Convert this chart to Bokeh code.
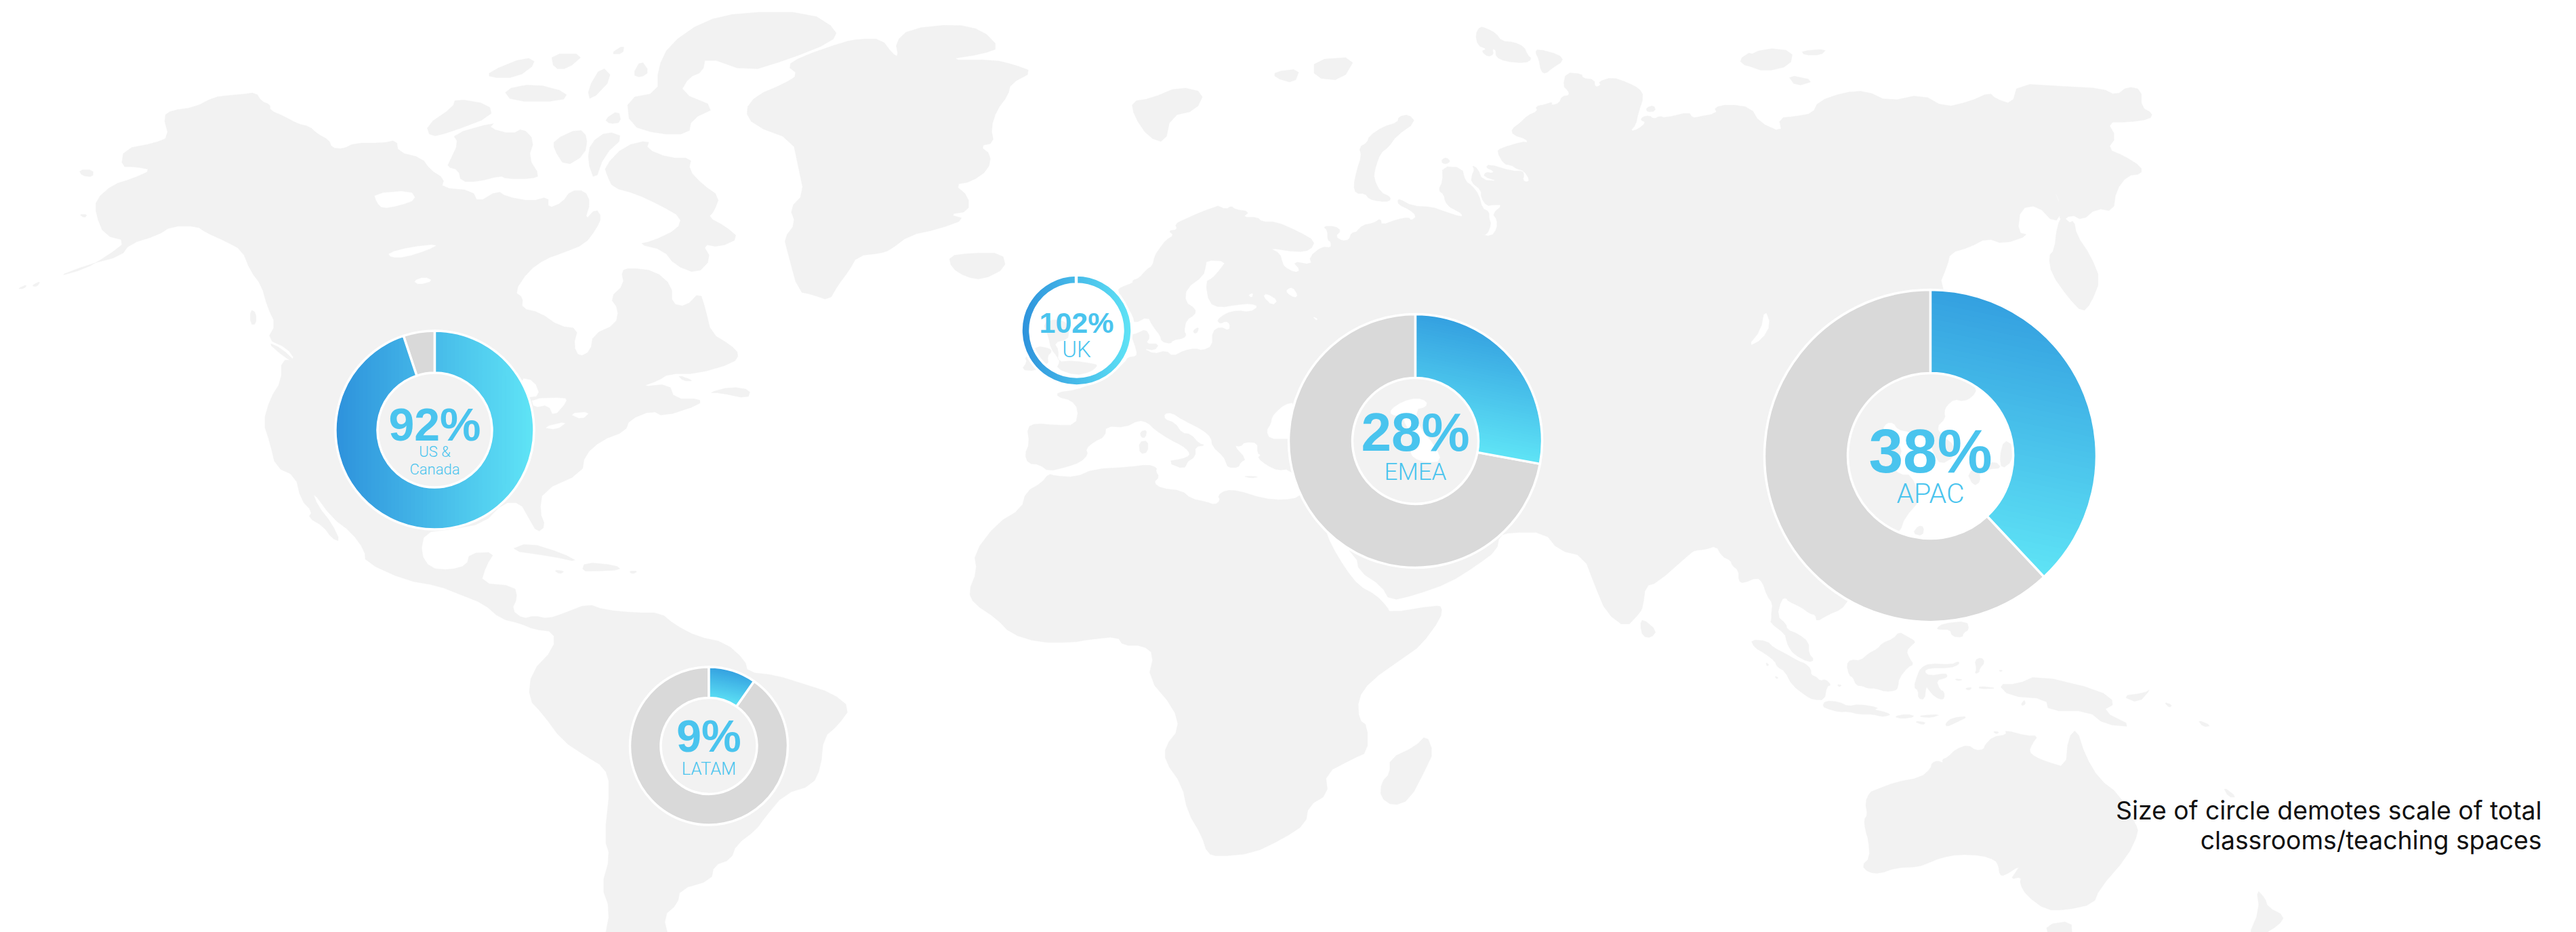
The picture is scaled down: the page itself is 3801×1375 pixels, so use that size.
import numpy as np
from bokeh.plotting import figure
from bokeh.models import Range1d
from bokeh.core.properties import value
from bokeh.embed import file_html
from bokeh.resources import INLINE

# ---------- data ----------
regions = ["US &\nCanada", "UK", "EMEA", "APAC", "LATAM"]
pct_labels = ["92%", "102%", "28%", "38%", "9%"]
drawn_share = [0.949, 0.998, 0.279, 0.38, 0.097]
note_lines = ["Size of circle demotes scale of total", "classrooms/teaching spaces"]

# ---------- layout (reference pixels) ----------
W, H = 3801, 1375
centers = [(641, 634), (1588, 487), (2088, 650), (2848, 672), (1045.5, 1100)]
r_outer = [146.5, 81.5, 187, 245, 116.5]
r_inner = [84.5, 68.5, 93, 122, 71]
grad_dir = [(1, 0), (1, 0), (-0.2, 0.98), (-0.2, 0.98), (-0.2, 0.98)]
grad_start = [(46, 146, 220), (46, 146, 220), (52, 160, 224), (52, 160, 224), (52, 160, 224)]
GRAD1 = (95, 228, 246)
GREY, LAND, BLUE = "#d9d9d9", "#f2f2f2", "#4ac4ee"
BASE_SHIFT = 0.37   # the text layout sits this many ems under the requested baseline
pct_style = [(68, 641, 651), (43, 1588, 491), (80, 2088, 667), (91, 2848, 699), (66, 1045.5, 1110)]
lab_style = [(22, 641, 674), (33, 1588, 527), (35, 2088, 709), (41, 2848, 743), (25.5, 1045.5, 1143)]

# map outlines; each list is in the pixel frame of one crop
A = (0, 0, 1.206, 1.14); B = (1300, 0, 1.206, 1.14); C = (2500, 0, 1.206, 1.14)
Z7 = (1480, 250, 3, 3); Z8 = (2500, 800, 3, 3); Z9 = (2000, 0, 3, 3); Z10 = (2720, 410, 3, 3); Z11 = (1990, 550, 3, 3)

americas = [(290,195),(305,185),(345,180),(380,163),(405,160),(430,158),(455,155),(465,170),(480,175),(480,185),(505,195),(530,208),(550,212),(565,225),(585,235),(590,248),(610,250),(630,240),(680,240),(705,235),(708,255),(750,265),(765,285),(790,300),(785,315),(840,320),(850,340),(885,320),(900,330),(945,338),(975,330),(975,350),(1000,340),(1015,320),(1040,320),(1050,340),(1040,370),(1060,350),(1070,365),(1060,385),(1040,410),(1000,425),(970,435),(940,455),(915,490),(930,500),(928,518),(960,525),(995,548),(1028,552),(1020,580),(1030,600),(1050,590),(1055,562),(1095,545),(1100,520),(1085,500),(1110,478),(1105,455),(1120,450),(1165,455),(1195,480),(1195,510),(1220,515),(1245,490),(1255,520),(1265,560),(1300,580),(1315,595),(1305,610),(1240,628),(1190,628),(1170,640),(1140,650),(1190,645),(1200,670),(1245,670),(1245,680),(1180,700),(1160,690),(1120,705),(1112,725),(1070,740),(1040,765),(1035,795),(965,825),(960,860),(970,885),(955,895),(940,870),(925,845),(895,845),(860,880),(800,890),(755,895),(748,930),(765,955),(800,958),(830,950),(835,930),(880,928),(865,950),(855,980),(915,985),(920,1005),(910,1025),(930,1040),(950,1035),(975,1040),(1005,1030),(1045,1015),(1075,1025),(1130,1030),(1175,1030),(1200,1050),(1240,1070),(1290,1080),(1325,1110),(1330,1130),(1380,1135),(1430,1150),(1480,1165),(1513,1190),(1490,1220),(1465,1240),(1460,1290),(1445,1320),(1395,1335),(1360,1375),(1345,1395),(1310,1420),(1300,1445),(1270,1455),(1265,1480),(1210,1495),(1205,1520),(1180,1540),(1190,1580),(1075,1580),(1085,1530),(1070,1490),(1085,1440),(1075,1410),(1085,1320),(1075,1290),(1040,1270),(1000,1245),(965,1200),(940,1175),(945,1130),(985,1090),(985,1062),(950,1058),(925,1048),(890,1040),(860,1015),(820,1000),(780,985),(720,975),(650,945),(648,925),(625,895),(590,870),(555,825),(565,850),(590,880),(605,910),(590,905),(575,885),(548,870),(555,860),(535,840),(525,800),(490,785),(480,745),(468,710),(480,670),(500,640),(500,605),(525,605),(510,585),(475,570),(490,545),(475,515),(465,480),(445,455),(430,420),(400,405),(365,390),(350,380),(305,380),(280,395),(230,410),(215,430),(155,445),(100,465),(150,452),(190,430),(225,405),(185,395),(170,360),(170,335),(200,310),(235,300),(270,285),(240,280),(215,280),(220,250),(275,240),(300,230)]
greenland = [(1568,65),(1588,90),(1598,95),(1593,70),(1618,48),(1698,40),(1748,50),(1778,80),(1748,90),(1683,100),(1768,100),(1803,108),(1838,120),(1798,140),(1793,160),(1773,185),(1763,215),(1768,240),(1743,245),(1763,260),(1758,285),(1728,305),(1698,310),(1723,330),(1723,355),(1688,360),(1718,368),(1668,385),(1618,395),(1583,420),(1568,425),(1525,430),(1510,455),(1490,480),(1475,505),(1445,495),(1420,490),(1400,420),(1395,400),(1415,375),(1405,350),(1430,325),(1420,280),(1410,235),(1340,210),(1325,185),(1345,160),(1395,140),(1420,125),(1400,110),(1425,95),(1500,70),(1530,65)]
canada_isles = [
 [(1075,280),(1110,245),(1155,235),(1150,250),(1190,265),(1230,265),(1225,285),(1250,310),(1280,330),(1270,355),(1260,365),(1290,380),(1315,400),(1280,415),(1250,410),(1265,435),(1240,460),(1200,445),(1180,420),(1135,410),(1160,405),(1205,385),(1212,365),(1175,345),(1130,325),(1090,315),(1080,295)],
 [(800,270),(815,240),(805,225),(880,205),(870,215),(910,225),(930,215),(950,235),(940,265),(960,295),(945,300),(900,300),(890,295),(850,305),(820,305),(815,285),(795,280)],
 [(985,235),(1030,215),(1045,230),(1040,260),(1005,280),(985,250)],
 [(1050,240),(1080,220),(1110,230),(1075,260),(1058,305),(1045,270)],
 [(1115,165),(1170,155),(1170,115),(1190,75),(1250,35),(1320,20),(1440,20),(1490,50),(1480,70),(1400,100),(1330,120),(1255,95),(1250,120),(1225,130),(1210,155),(1275,180),(1230,200),(1225,225),(1170,225),(1120,210)],
 [(1075,200),(1100,185),(1105,205),(1085,208)],
 [(870,120),(935,95),(955,105),(920,130),(870,130)],
 [(910,170),(1000,170),(1010,155),(950,140),(895,150)],
 [(980,90),(1040,90),(1010,115),(985,115)],
 [(1050,170),(1090,130),(1070,110),(1045,150)],
 [(758,210),(805,180),(810,165),(870,175),(875,195),(800,222),(765,230)],
 [(1125,125),(1140,100),(1155,120),(1140,130)],
 [(1085,90),(1110,75),(1108,90)],
 [(905,925),(940,912),(1000,930),(1030,945),(980,935)],
 [(1040,945),(1095,950),(1105,958),(1060,960),(1035,960)],
 [(985,958),(1005,960),(995,965)],
 [(1118,960),(1135,960),(1125,965)],
 [(1260,660),(1300,650),(1335,655),(1330,670),(1280,660)],
 [(1205,630),(1235,640),(1215,640)],
 [(475,575),(500,585),(530,612),(505,600)],
 [(445,520),(455,525),(455,545),(445,545)],
 [(140,285),(165,285),(165,297),(145,295)],
 [(30,485),(48,478),(42,485)], [(55,480),(72,472),(65,482)],
 [(140,360),(155,360),(150,366)],
]

norway_to_turkey = [(950,160),(880,185),(800,220),(760,240),(770,265),(730,270),(755,290),(720,310),(690,350),(670,380),(660,425),(635,440),(600,480),(570,490),(575,500),(520,520),(505,535),(540,590),(575,650),(580,680),(640,650),(660,690),(695,735),(700,760),(740,770),(750,755),(800,745),(810,730),(800,715),(810,665),(850,640),(850,615),(805,585),(810,525),(885,470),(895,430),(900,400),(985,405),(960,440),(925,480),(895,495),(910,590),(960,610),(1030,598),(1095,592),(1130,605),(1090,630),(1035,622),(985,635),(945,665),(960,682),(985,670),(1003,682),(1000,712),(960,695),(925,715),(925,780),(880,800),(850,790),(800,800),(750,825),(720,800),(665,815),(620,790),(670,800),(690,770),(630,770),(650,740),(630,705),(590,725),(565,730),(590,800),(590,825),(550,830),(540,850),(450,930),(400,945),(320,975),(240,985),(240,1005),(300,1020),(332,1060),(320,1130),(230,1130),(145,1122),(105,1140),(115,1210),(95,1260),(110,1300),(160,1305),(200,1335),(280,1315),(340,1295),(375,1260),(365,1235),(400,1205),(450,1180),(455,1135),(540,1140),(600,1108),(640,1120),(670,1150),(730,1190),(790,1220),(820,1245),(825,1265),(790,1280),(725,1290),(800,1325),(810,1295),(850,1270),(850,1225),(895,1220),(865,1210),(830,1170),(790,1165),(760,1120),(715,1105),(712,1080),(745,1075),(790,1105),(880,1150),(920,1185),(925,1225),(975,1270),(985,1295),(995,1318),(1040,1318),(1050,1295),(1075,1280),(1020,1220),(1050,1225),(1070,1205),(1125,1208),(1125,1255),(1140,1262),(1125,1275),(1170,1310),(1215,1330),(1265,1325),(1340,1400)]
north_africa = [(1310,1450),(1240,1462),(1150,1455),(1040,1420),(985,1418),(950,1440),(960,1465),(935,1483),(900,1470),(830,1455),(790,1420),(700,1410),(665,1385),(690,1360),(675,1335),(680,1318),(640,1305),(560,1315),(400,1325),(320,1360),(230,1355),(200,1345),(170,1385),(100,1425),(80,1500)]
africa_arabia_india = [(205,880),(165,930),(170,960),(155,995),(165,1015),(205,1040),(230,1065),(280,1080),(340,1080),(370,1075),(420,1070),(430,1085),(465,1085),(485,1100),(475,1140),(520,1190),(530,1225),(505,1255),(505,1280),(535,1320),(545,1365),(570,1405),(580,1435),(600,1440),(660,1435),(715,1410),(755,1385),(760,1355),(795,1335),(790,1300),(840,1275),(865,1265),(865,1220),(850,1210),(848,1175),(870,1145),(930,1105),(960,1085),(995,1040),(998,1020),(985,1018),(905,1030),(900,1020),(880,1000),(850,985),(825,955),(800,915),(790,890),(845,935),(850,960),(890,985),(905,1010),(950,1000),(1010,980),(1060,950),(1095,925),(1100,900),(1120,895),(1180,895),(1205,925),(1250,935),(1270,985),(1290,1030),(1325,1055),(1350,1030),(1355,1020),(1360,985),(1380,980),(1440,930)]
se_asia = [(0,35),(50,30),(95,15),(120,60),(160,80),(165,100),(195,125),(195,170),(215,180),(275,155),(300,175),(320,235),(345,270),(340,310),(340,340),(335,355),(400,405),(405,430),(415,460),(440,495),(505,530),(530,520),(505,490),(505,440),(460,405),(410,385),(405,360),(365,325),(385,250),(405,245),(415,260),(470,285),(510,315),(535,320),(540,350),(590,320),(650,295),(675,262)]
china_coast = [(250,1120),(270,1060),(340,980),(300,870),(250,870),(210,830),(260,780),(240,720),(170,670),(190,640),(220,640),(240,670),(290,680),(350,700),(380,720),(400,780),(430,825),(490,790),(490,740),(440,700),(410,660),(450,620),(445,590),(455,565),(490,535),(530,545),(570,525),(590,490)]
siberia_east = [(0,197),(40,190),(35,180),(60,175),(100,180),(115,205),(155,222),(150,198),(180,195),(210,190),(220,170),(265,155),(305,152),(345,170),(405,158),(445,180),(490,170),(525,155),(535,165),(565,175),(575,140),(660,145),(725,148),(750,160),(770,145),(795,150),(795,180),(815,190),(810,200),(770,205),(735,205),(750,230),(735,250),(765,262),(795,280),(795,292),(770,295),(750,320),(745,355),(715,350),(690,370),(670,360),(650,375),(650,340),(640,320),(655,355),(640,375),(610,345),(580,350),(575,390),(595,395),(550,410),(520,400),(490,415),(455,425),(450,445),(435,480)]
siberia_west = [(0,1026),(30,995),(80,985),(110,965),(115,995),(180,970),(235,960),(245,975),(270,955),(235,925),(190,905),(185,885),(195,880),(250,910),(340,915),(380,930),(470,960),(470,945),(435,925),(415,915),(395,890),(390,860),(365,840),(385,800),(383,735),(470,740),(485,800),(515,820),(545,860),(560,920),(590,935),(590,965),(600,990),(580,1040),(545,1035),(600,1045),(625,1010),(625,970),(605,945),(650,905),(610,905),(580,910),(555,875),(555,840),(510,805),(515,770),(525,750),(515,730),(540,745),(560,795),(630,800),(565,780),(575,760),(605,765),(610,755),(575,740),(590,725),(690,755),(740,755),(745,775),(740,795),(755,805),(770,795),(745,755),(710,745),(690,730),(655,725),(625,670),(640,655),(740,625),(760,630),(755,615),(695,595),(690,570),(730,540),(760,510),(805,490),(795,470),(840,460),(870,450),(865,465),(900,455),(912,425),(945,420),(940,400),(918,380),(930,320),(1000,325),(1005,345),(1055,350),(1060,385),(1085,375),(1075,360),(1135,340),(1205,365),(1255,390),(1275,425),(1250,500),(1240,550),(1215,580),(1250,570),(1285,540),(1260,530),(1270,515),(1300,510),(1320,525),(1345,512),(1370,520),(1475,495),(1490,520),(1525,515),(1560,520)]
russia_arctic_west = [(950,160),(985,175),(1010,160),(1025,175),(1090,185),(1060,210),(1125,210),(1145,230),(1210,230),(1310,275),(1380,315),(1360,355),(1300,365),(1175,345),(1225,370),(1235,410),(1245,430),(1290,455),(1315,445),(1280,405),(1365,420),(1355,385),(1410,340),(1450,345),(1450,320),(1435,310),(1435,270),(1415,250),(1470,250),(1495,270),(1470,295),(1500,315),(1530,310),(1540,280),(1560,275)]

aus_n = [(1380,850),(1375,830),(1470,855),(1520,855),(1495,890),(1480,925),(1510,950),(1560,970)]
aus_e = [(660,1290),(665,1240),(680,1225),(695,1270),(720,1310),(755,1335),(785,1385),(790,1400),(770,1440),(720,1495),(710,1520),(660,1530),(625,1530),(590,1505)]
aus_s = [(1440,1510),(1445,1480),(1400,1490),(1420,1460),(1440,1430),(1370,1475),(1350,1470),(1345,1430),(1330,1405),(1270,1385),(1170,1380),(1090,1395),(1030,1420),(990,1435),(890,1440),(820,1465),(770,1460),(740,1430),(775,1395),(770,1320),(755,1270),(750,1225),(765,1205),(755,1150),(775,1105),(800,1095),(890,1060),(1000,1040),(1045,1000),(1050,975),(1075,965),(1100,975),(1095,960),(1120,950),(1155,915),(1210,895),(1245,920),(1280,915),(1285,895),(1320,860)]

isles = [
 (B, [(120,430),(160,425),(215,425),(222,450),(180,470),(150,465),(125,450)]),
 (B, [(905,1275),(950,1255),(970,1235),(982,1265),(970,1290),(940,1345),(910,1355),(888,1340),(890,1315),(905,1300)]),
 (B, [(1355,1040),(1380,1060),(1370,1072),(1355,1070),(1350,1050)]),
 (B, [(445,170),(480,165),(530,145),(575,155),(560,185),(515,195),(505,240),(475,230),(450,195)]),
 (B, [(700,120),(745,115),(735,140),(700,130)]),
 (B, [(770,100),(845,95),(820,135),(770,130)]),
 (B, [(1525,100),(1550,85),(1568,110),(1540,112)]),
 (B, [(760,1125),(785,1125),(775,1145),(758,1143)]),
 (Z7, [(175,675),(240,660),(285,680),(290,720),(285,750),(225,765),(245,800),(240,850),(310,845),(410,860),(415,870),(385,895),(320,910),(235,880),(250,850),(240,830),(210,790),(200,740)]),
 (Z7, [(95,830),(145,780),(205,790),(215,805),(195,825),(200,860),(140,890),(80,885),(105,850)]),
 (Z7, [(690,665),(720,648),(720,668),(700,672)]),
 (Z7, [(840,710),(865,695),(860,720),(845,725)]),
 (Z7, [(605,1160),(635,1150),(630,1185),(610,1185)]),
 (Z7, [(600,1205),(640,1198),(640,1250),(605,1258)]),
 (Z7, [(725,1295),(825,1275),(800,1325)]),
 (Z7, [(1060,1355),(1135,1358),(1095,1365)]),
 (Z9, [(15,650),(50,630),(60,600),(120,560),(185,540),(190,515),(235,505),(265,540),(180,600),(145,650),(110,675),(85,745),(80,790),(110,850),(155,870),(150,890),(105,890),(60,880),(40,855),(0,855),(-10,820),(5,750),(25,690)]),
 (Z9, [(530,150),(550,115),(580,125),(620,145),(645,180),(700,185),(745,205),(760,240),(780,260),(750,278),(660,270),(620,250),(620,220),(605,215),(610,240),(585,250),(555,225),(580,215),(540,200)]),
 (Z9, [(795,230),(805,215),(900,240),(920,268),(870,300),(840,325),(820,315),(810,260)]),
 (Z9, [(380,705),(400,695),(420,712),(400,725),(382,720)]),
 (Z9, [(1285,475),(1320,465),(1328,490),(1290,495)]),
 (C, [(80,100),(125,80),(175,85),(170,110),(125,120),(95,110)]),
 (C, [(190,85),(235,82),(225,92),(195,92)]),
 (C, [(165,125),(215,135),(180,145)]),
 (C, [(632,320),(650,340),(655,360),(645,380),(640,420),(630,430),(635,460),(665,500),(690,525),(705,510),(722,470),(705,430),(680,395),(675,370),(665,375),(645,345)]),
 (C, [(540,1150),(575,1150),(610,1135),(720,1160),(750,1182),(725,1195),(782,1222),(730,1218),(700,1195),(630,1195),(625,1175),(560,1170)]),
 (C, [(760,1170),(800,1165),(812,1158),(790,1182)]),
 (C, [(835,1180),(850,1185),(845,1190)]), (C, [(895,1210),(920,1220),(905,1222)]),
 (C, [(625,1555),(670,1548),(672,1575),(630,1575)]),
 (C, [(1000,1495),(1015,1510),(1020,1525),(1050,1540),(1040,1555),(1005,1575),(985,1575),(1005,1530)]),
 (C, [(940,1322),(965,1340),(950,1340)]),
 (Z8, [(248,430),(320,435),(350,465),(400,490),(460,525),(490,535),(515,560),(515,585),(540,595),(555,612),(580,605),(605,630),(585,637),(575,697),(525,695),(495,680),(430,630),(400,570),(365,550),(355,525),(310,490),(265,465)]),
 (Z8, [(578,700),(640,705),(680,725),(725,715),(815,730),(795,740),(825,745),(870,760),(850,768),(825,770),(790,760),(725,760),(680,748),(640,750),(595,738),(565,725)]),
 (Z8, [(672,540),(690,518),(735,522),(770,490),(810,470),(830,445),(880,425),(905,395),(940,415),(980,438),(960,455),(938,480),(950,510),(970,540),(945,550),(905,600),(900,640),(890,655),(845,660),(800,645),(765,645),(745,635),(715,632),(700,595),(685,590)]),
 (Z8, [(1000,555),(1040,535),(1135,540),(1170,525),(1170,540),(1130,555),(1040,555),(1015,570),(1040,590),(1110,578),(1120,590),(1110,600),(1070,610),(1085,650),(1105,660),(1105,690),(1090,695),(1060,680),(1035,650),(1025,635),(1018,695),(990,690),(990,655),(970,640),(985,590)]),
 (Z8, [(1070,380),(1100,358),(1205,348),(1215,385),(1190,400),(1185,420),(1140,415),(1130,385),(1085,385)]),
 (Z8, [(1240,520),(1270,508),(1285,530),(1260,560),(1260,575),(1240,580),(1248,560)]),
 (Z8, [(880,770),(940,758),(980,770),(920,780)]),
 (Z8, [(1000,765),(1090,760),(1050,775),(1000,772)]),
 (Z8, [(970,790),(1025,795),(1010,808)]),
 (Z8, [(1110,800),(1140,775),(1215,768),(1150,800),(1115,815)]),
 (Z8, [(1195,645),(1230,640),(1215,655)]),
 (Z8, [(1260,635),(1345,645),(1260,648)]),
 (Z8, [(1445,715),(1460,695),(1465,715),(1450,722)]),
 (Z8, [(315,530),(330,540),(320,548)]), (Z8, [(355,590),(372,598),(362,604)]),
 (Z8, [(630,628),(652,630),(640,640)]), (Z8, [(1320,835),(1350,838),(1335,848)]),
 (Z8, [(1150,603),(1190,606),(1165,612)]), (Z8, [(1345,565),(1365,565),(1355,572)]),
 (Z10, [(700,840),(670,810),(620,830),(545,860),(575,920),(605,900),(600,860),(640,845)]),
 (Z10, [(690,790),(710,715),(750,740),(745,810),(700,845)]),
 (Z10, [(305,1130),(330,1095),(355,1100),(350,1140)]),
]
lakes = [
 (A, [(665,325),(730,320),(740,335),(710,345),(680,350),(670,340)]),
 (A, [(690,425),(730,415),(780,410),(760,420),(720,432),(695,432)]),
 (A, [(735,472),(755,465),(770,472),(745,478)]),
 (A, [(925,635),(950,640),(960,665),(935,668)]),
 (A, [(945,670),(1005,668),(1008,675),(985,700),(975,680),(950,685)]),
 (A, [(1012,695),(1050,692),(1035,705)]),
 (A, [(965,718),(1010,708),(990,722)]),
 (Z7, [(1250,1190),(1180,1190),(1165,1155),(1185,1125),(1190,1095),(1210,1070),(1245,1040),(1290,1030),(1300,1190)]),
 (Z7, [(1150,560),(1165,548),(1215,578),(1190,600)]),
 (Z7, [(1255,530),(1280,520),(1303,555),(1290,566),(1255,545)]),
 (Z7, [(1085,555),(1105,545),(1100,566)]),
 (Z7, [(1370,650),(1392,660),(1385,665)]),
 (Z11, [(185,160),(240,125),(300,110),(345,125),(340,150),(295,160),(310,240),(380,320),(410,390),(340,395),(285,375),(270,345),(300,300),(250,230),(240,190),(185,185)]),
 (C, [(125,520),(135,545),(120,570),(95,582),(118,555)]),
]


def conv(frame, pts):
    x0, y0, sx, sy = frame
    a = np.array(pts, dtype=float)
    return np.column_stack((x0 + a[:, 0] / sx, y0 + a[:, 1] / sy))


def smooth(a, n=1):
    for _ in range(n):
        b = np.roll(a, -1, axis=0)
        a = np.column_stack((0.75 * a + 0.25 * b, 0.25 * a + 0.75 * b)).reshape(-1, 2)
    return a


eurasia_africa = np.vstack([
    conv(Z7, norway_to_turkey), conv(Z7, north_africa), conv(B, africa_arabia_india),
    conv(Z8, se_asia), conv(Z10, china_coast), conv(C, siberia_east[::-1]),
    conv(Z9, siberia_west[::-1]), conv(Z7, russia_arctic_west[::-1])])
australia = np.vstack([conv(Z8, aus_n), conv(C, aus_e), conv(Z8, aus_s)])

land = [eurasia_africa, australia, conv(A, americas), conv(A, greenland)]
land += [conv(A, p) for p in canada_isles] + [conv(f, p) for f, p in isles]
water = [conv(f, p) for f, p in lakes]

p = figure(width=W, height=H, output_backend="svg", toolbar_location=None,
           x_range=Range1d(0, W), y_range=Range1d(0, H), min_border=0,
           background_fill_color="white", border_fill_color="white", outline_line_color=None)
p.axis.visible = False
p.grid.visible = False


def draw_shapes(shapes, color):
    xs = [list(s[:, 0]) for s in map(smooth, shapes)]
    ys = [list(H - s[:, 1]) for s in map(smooth, shapes)]
    p.patches(xs, ys, fill_color=color, line_color=color, line_width=0.5)


draw_shapes(land, LAND)
draw_shapes(water, "#ffffff")


def clip_halfplane(poly, d, t):
    out = []
    v = poly @ d - t
    n = len(poly)
    for i in range(n):
        j = (i + 1) % n
        if v[i] >= 0:
            out.append(poly[i])
        if (v[i] >= 0) != (v[j] >= 0):
            out.append(poly[i] + (poly[j] - poly[i]) * v[i] / (v[i] - v[j]))
    return np.array(out) if out else None


for (cx, cy), ro, ri, f, d, g0 in zip(centers, r_outer, r_inner, drawn_share, grad_dir, grad_start):
    Y = H - cy
    top = np.pi / 2
    end = top - 2 * np.pi * f
    p.annular_wedge([cx], [Y], inner_radius=ri, outer_radius=ro, start_angle=top, end_angle=end + 2 * np.pi,
                    direction="anticlock", fill_color=GREY, line_color="white", line_width=3.5)
    th = np.linspace(top, end, max(60, int(f * 360)))
    sector = np.vstack([np.column_stack((cx + ro * np.cos(th), Y + ro * np.sin(th))),
                        np.column_stack((cx + ri * np.cos(th[::-1]), Y + ri * np.sin(th[::-1])))])
    dv = np.array(d, dtype=float); dv /= np.hypot(*dv)
    dv_up = dv * np.array([1, -1])
    proj = sector @ dv_up
    lo, hi = proj.min(), proj.max()
    xs, ys, cols = [], [], []
    steps = 50
    for k in range(steps):
        piece = clip_halfplane(sector, dv_up, lo + (hi - lo) * k / steps)
        if piece is None or len(piece) < 3:
            continue
        u = (k + 0.5) / steps
        rgb = [int(round(a + (b - a) * u)) for a, b in zip(g0, GRAD1)]
        xs.append(list(piece[:, 0])); ys.append(list(piece[:, 1])); cols.append("#%02x%02x%02x" % tuple(rgb))
    p.patches(xs, ys, fill_color=cols, line_color=None)
    p.annular_wedge([cx], [Y], inner_radius=ri, outer_radius=ro, start_angle=end, end_angle=top,
                    direction="anticlock", fill_alpha=0, line_color="white", line_width=3.5)

for txt, (fs, x, y) in zip(pct_labels, pct_style):
    p.text([x], [H - y + BASE_SHIFT * fs], text=[txt], text_font=value("Liberation Sans"), text_font_style="bold",
           text_font_size=f"{fs}px", text_color=BLUE, text_align="center", text_baseline="alphabetic")
for reg, (fs, x, y) in zip(regions, lab_style):
    for i, ln in enumerate(reg.split("\n")):
        p.text([x], [H - (y + i * 26) + BASE_SHIFT * fs], text=[ln], text_font=value("Roboto Light"),
               text_font_size=f"{fs}px", text_color=BLUE, text_align="center", text_baseline="alphabetic")
for i, ln in enumerate(note_lines):
    p.text([3750], [H - (1209 + i * 44) + BASE_SHIFT * 37.3], text=[ln], text_font=value("Inter"),
           text_font_size="37.3px", text_color="#111111", text_align="right", text_baseline="alphabetic")

open("out.html", "w").write(file_html(p, INLINE))
